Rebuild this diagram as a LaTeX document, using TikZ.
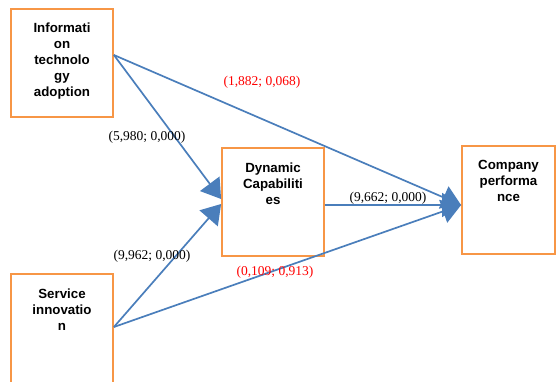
\documentclass[tikz,border=0pt]{standalone}
\usepackage{fontspec}
\setmainfont{Liberation Serif}
\newfontfamily\boxfont{Liberation Sans}
\usetikzlibrary{arrows.meta}
\definecolor{boxorange}{HTML}{F79646}
\definecolor{linkblue}{HTML}{4A7EBB}
\definecolor{pred}{HTML}{FF0000}
\begin{document}
\begin{tikzpicture}[x=1pt,y=-1pt,
  box/.style={draw=boxorange,line width=1.8pt,minimum width=102pt,minimum height=108pt,inner sep=0pt},
  boxtext/.style={anchor=north,align=center,font=\boxfont\bfseries\fontsize{13.3}{16}\selectfont,inner sep=0pt},
  link/.style={draw=linkblue,line width=1.7pt,-{Triangle[length=19pt,width=24pt]}},
  coef/.style={font=\fontsize{13.5}{15}\selectfont,inner sep=0pt},
]
\useasboundingbox (0,0) rectangle (557,381);
\clip (0,0) rectangle (557,381);
\node[box] (ita) at (62,63) {};
\node[box] (dc) at (273,202) {};
\node[box,minimum width=93pt] (cp) at (508.5,200) {};
\node[box,minimum height=120pt] (si) at (62,334) {};

\node[boxtext] (itat) at (62,23) {Informati\\on\\technolo\\gy\\adoption};
\node[boxtext] (dct) at (273,163) {Dynamic\\Capabiliti\\es};
\node[boxtext] (cpt) at (508.5,160) {Company\\performa\\nce};
\node[boxtext] (sit) at (62,289) {Service\\innovatio\\n};

\draw[link] ([yshift=8pt]ita.east) -- ([yshift=3pt]dc.west);
\draw[link] ([yshift=8pt]ita.east) -- ([yshift=-5pt]cp.west);
\draw[link] ([yshift=7pt]si.east) -- ([yshift=-2pt]dc.west);
\draw[link] ([yshift=7pt]si.east) -- ([yshift=-5pt]cp.west);
\draw[link] ([yshift=-3pt]dc.east) -- ([yshift=-5pt]cp.west);

\node[coef,text=pred] (l1) at (262,82) {(1,882; 0,068)};
\node[coef] (l2) at (147,137) {(5,980; 0,000)};
\node[coef] (l3) at (152,256) {(9,962; 0,000)};
\node[coef] (l4) at (388,198) {(9,662; 0,000)};
\node[coef,text=pred] (l5) at (275,272) {(0,109; 0,913)};
\end{tikzpicture}
\end{document}
